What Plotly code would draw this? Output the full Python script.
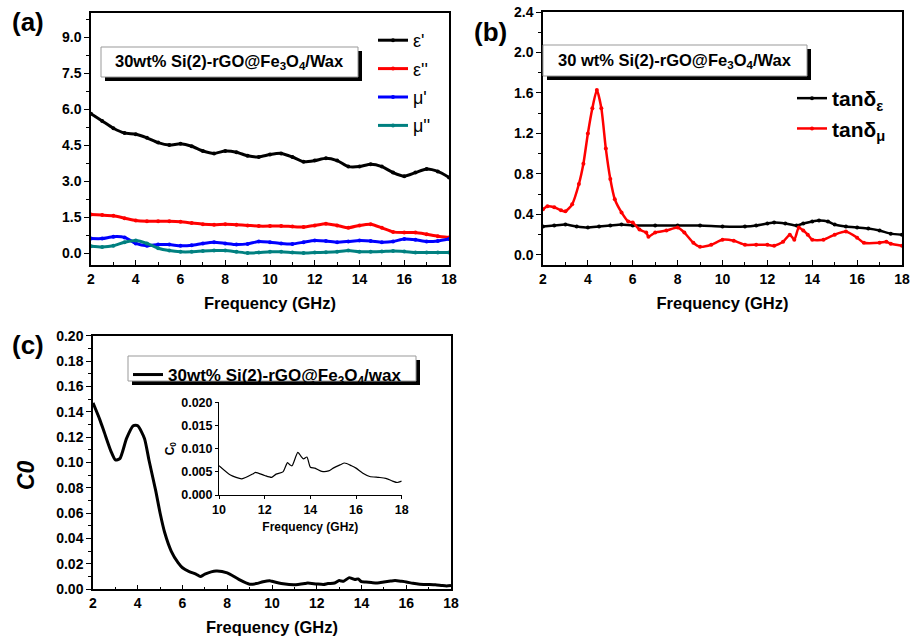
import plotly.graph_objects as go

# ---------------- data ----------------
freq_a = [2, 2.5, 3, 3.5, 4, 4.5, 5, 5.5, 6, 6.5, 7, 7.5, 8, 8.5, 9, 9.5, 10, 10.5, 11,
          11.5, 12, 12.5, 13, 13.5, 14, 14.5, 15, 15.5, 16, 16.5, 17, 17.5, 18]
eps_real = [5.8, 5.5, 5.2, 5.0, 4.95, 4.8, 4.6, 4.5, 4.55, 4.45, 4.25, 4.15, 4.25, 4.2, 4.05, 4.0,
            4.1, 4.15, 4.0, 3.8, 3.85, 3.95, 3.85, 3.6, 3.6, 3.7, 3.6, 3.35, 3.2, 3.35, 3.5, 3.4, 3.15]
eps_imag = [1.6, 1.58, 1.55, 1.45, 1.35, 1.32, 1.32, 1.32, 1.3, 1.25, 1.2, 1.18, 1.2, 1.18, 1.15, 1.12,
            1.12, 1.13, 1.1, 1.08, 1.15, 1.22, 1.15, 1.05, 1.15, 1.2, 1.05, 0.88, 0.85, 0.85, 0.78, 0.7, 0.65]
mu_real = [0.6, 0.6, 0.68, 0.65, 0.4, 0.3, 0.35, 0.35, 0.3, 0.32, 0.4, 0.45, 0.4, 0.35, 0.38, 0.48,
           0.45, 0.4, 0.38, 0.45, 0.52, 0.5, 0.45, 0.48, 0.52, 0.5, 0.45, 0.48, 0.58, 0.55, 0.48, 0.5, 0.58]
mu_imag = [0.28, 0.25, 0.3, 0.45, 0.52, 0.4, 0.2, 0.1, 0.05, 0.05, 0.08, 0.1, 0.1, 0.05, 0.0, 0.02,
           0.05, 0.05, 0.02, 0.0, 0.02, 0.03, 0.05, 0.1, 0.05, 0.05, 0.06, 0.08, 0.06, 0.02, 0.02, 0.02, 0.02]

freq_te = [2, 2.5, 3, 3.5, 4, 4.5, 5, 5.5, 6, 7, 8, 9, 10, 11, 11.5, 12, 12.3, 12.8, 13.3, 13.6,
           14, 14.3, 14.7, 15, 15.5, 16, 16.5, 17, 17.5, 18]
tan_eps = [0.28, 0.29, 0.3, 0.28, 0.27, 0.28, 0.29, 0.3, 0.29, 0.29, 0.29, 0.29, 0.28, 0.28, 0.29,
           0.31, 0.32, 0.31, 0.29, 0.31, 0.33, 0.34, 0.33, 0.3, 0.28, 0.27, 0.26, 0.24, 0.21, 0.2]
freq_tm = [2, 2.2, 2.5, 2.8, 3.0, 3.3, 3.6, 3.8, 4.0, 4.2, 4.4, 4.6, 4.8, 5.0, 5.2, 5.5, 5.8, 6.0,
           6.3, 6.6, 6.7, 7.0, 7.5, 8.0, 8.3, 8.7, 9.0, 9.5, 10.0, 10.5, 11.0, 11.5, 12.0, 12.3,
           12.7, 13.0, 13.2, 13.4, 13.6, 13.8, 14.0, 14.5, 15.0, 15.5, 16.0, 16.3, 17.0, 17.3, 17.5, 18.0]
tan_mu = [0.45, 0.48, 0.47, 0.44, 0.43, 0.5, 0.7, 0.9, 1.2, 1.45, 1.63, 1.45, 1.05, 0.75, 0.55, 0.42,
          0.33, 0.32, 0.25, 0.22, 0.18, 0.22, 0.24, 0.27, 0.22, 0.12, 0.08, 0.1, 0.15, 0.14, 0.1, 0.1,
          0.1, 0.09, 0.13, 0.2, 0.15, 0.27, 0.24, 0.2, 0.15, 0.15, 0.2, 0.23, 0.17, 0.12, 0.12, 0.13,
          0.11, 0.09]

freq_c = [2, 2.3, 2.5, 2.8, 3.0, 3.2, 3.5, 3.8, 4.0, 4.3, 4.5, 4.8, 5.0, 5.2, 5.5, 5.8, 6.0, 6.3,
          6.6, 6.8, 7.0, 7.5, 8.0, 8.5, 9.0, 9.3, 9.6, 9.9, 10.0, 10.5, 11.0, 11.5, 11.6, 12.0, 12.3,
          12.5, 12.8, 13.0, 13.1, 13.2, 13.45, 13.6, 13.7, 13.85, 14.0, 14.2, 14.5, 14.8, 15.0, 15.3,
          15.5, 15.8, 16.0, 16.3, 16.6, 17.0, 17.3, 17.6, 17.8, 18.0]
c0 = [0.147, 0.134, 0.124, 0.109, 0.102, 0.103, 0.119, 0.129, 0.129, 0.119, 0.102, 0.078, 0.06,
      0.045, 0.03, 0.021, 0.017, 0.014, 0.012, 0.01, 0.012, 0.0145, 0.013, 0.008, 0.004, 0.0045,
      0.006, 0.0068, 0.0063, 0.0043, 0.0035, 0.0046, 0.0049, 0.0042, 0.0038, 0.0045, 0.005, 0.007,
      0.0065, 0.0063, 0.0092, 0.0083, 0.0078, 0.0082, 0.006, 0.0058, 0.0051, 0.0052, 0.0058,
      0.0065, 0.0069, 0.0063, 0.0058, 0.0047, 0.004, 0.0038, 0.0036, 0.003, 0.0027, 0.003]
inset_freq = [f for f in freq_c if f >= 10]
inset_c0 = [v for f, v in zip(freq_c, c0) if f >= 10]

sample_a = "30wt% Si(2)-rGO@Fe<sub>3</sub>O<sub>4</sub>/Wax"
sample_b = "30 wt% Si(2)-rGO@Fe<sub>3</sub>O<sub>4</sub>/Wax"
sample_c = "30wt% Si(2)-rGO@Fe<sub>3</sub>O<sub>4</sub>/wax"

# ---------------- helpers ----------------
W, H = 911, 642
FONT = "Arial, Liberation Sans, sans-serif"


def px(x):
    return x / W


def py(y):
    return 1 - y / H


fig = go.Figure()


def add(x, y, name, color, xa, ya, legend, width=3, msize=4, group=None, show=True):
    fig.add_trace(go.Scatter(
        x=x, y=y, name=name, mode="lines+markers" if msize else "lines",
        line=dict(color=color, width=width, shape="spline", smoothing=0.6),
        marker=dict(size=msize, color=color) if msize else None,
        xaxis=xa, yaxis=ya, legend=legend, legendgroup=group, showlegend=show))


add(freq_a, eps_real, "ε'", "#000000", "x", "y", "legend", group="a1")
add(freq_a, eps_imag, "ε''", "#ff0000", "x", "y", "legend", group="a2")
add(freq_a, mu_real, "μ'", "#0000ff", "x", "y", "legend", group="a3")
add(freq_a, mu_imag, "μ''", "#008080", "x", "y", "legend", group="a4")

add(freq_te, tan_eps, "tanδ<sub>ε</sub>", "#000000", "x2", "y2", "legend2", width=2.5, group="b1")
add(freq_tm, tan_mu, "tanδ<sub>μ</sub>", "#ff0000", "x2", "y2", "legend2", width=2.5, group="b2")

add(freq_c, c0, sample_c, "#000000", "x3", "y3", "legend3", width=3, msize=0)
add(inset_freq, inset_c0, "inset", "#000000", "x4", "y4", "legend3", width=1.2, msize=0, show=False)

tickf = dict(family=FONT, size=14, color="black", weight="bold")
titlef = dict(family=FONT, size=16.5, color="black", weight="bold")


def main_x(domain, anchor):
    return dict(domain=domain, anchor=anchor, range=[2, 18], dtick=2, tick0=2,
                showline=True, mirror=True, linecolor="black", linewidth=1.5,
                ticks="inside", ticklen=5, tickwidth=1.2, tickcolor="black",
                minor=dict(ticks="inside", ticklen=3, dtick=1, tickcolor="black"),
                showgrid=False, zeroline=False, tickfont=tickf, automargin=False,
                title=dict(text="Frequency (GHz)", font=titlef, standoff=12))


def main_y(domain, anchor, rng, dtick, fmt):
    return dict(domain=domain, anchor=anchor, range=rng, dtick=dtick, tick0=0,
                tickformat=fmt, showline=True, mirror=True, linecolor="black",
                linewidth=1.5, ticks="outside", ticklen=5, tickwidth=1.2, tickcolor="black",
                minor=dict(ticks="outside", ticklen=3, dtick=dtick / 2, tickcolor="black"),
                showgrid=False, zeroline=False, tickfont=tickf, automargin=False)


inset_tick = dict(family=FONT, size=12.5, color="black", weight="bold")
inset_title = dict(family=FONT, size=12, color="black", weight="bold")

fig.update_layout(
    template="none",
    width=W, height=H, margin=dict(l=0, r=0, t=0, b=0, pad=0), autosize=False,
    paper_bgcolor="white", plot_bgcolor="white",
    font=dict(family=FONT, color="black"),
    xaxis=main_x([px(91), px(449)], "y"),
    yaxis=main_y([py(265), py(13)], "x", [-0.5, 10], 1.5, ".1f"),
    xaxis2=main_x([px(543), px(902)], "y2"),
    yaxis2=main_y([py(265), py(12)], "x2", [-0.1, 2.4], 0.4, ".1f"),
    xaxis3=main_x([px(93), px(451)], "y3"),
    yaxis3=main_y([py(589.3), py(335.7)], "x3", [0, 0.2], 0.02, ".2f"),
    xaxis4=dict(domain=[px(219), px(401.7)], anchor="y4", range=[10, 18], dtick=2,
                showline=True, linecolor="black", linewidth=1, ticks="outside", ticklen=3,
                tickcolor="black", showgrid=False, zeroline=False, tickfont=inset_tick,
                automargin=False,
                title=dict(text="Frequency (GHz)", font=inset_title, standoff=6)),
    yaxis4=dict(domain=[py(495), py(402.3)], anchor="x4", range=[0, 0.02], dtick=0.005,
                tickformat=".3f", showline=True, linecolor="black", linewidth=1,
                ticks="outside", ticklen=3, tickcolor="black", showgrid=False,
                zeroline=False, tickfont=inset_tick, automargin=False,
                title=dict(text="C<sub>0</sub>", font=inset_title, standoff=4)),
    legend=dict(x=px(373), y=py(22), xanchor="left", yanchor="top",
                bgcolor="rgba(0,0,0,0)", font=dict(family=FONT, size=18, color="black"),
                tracegroupgap=2, itemwidth=30),
    legend2=dict(x=px(792), y=py(78), xanchor="left", yanchor="top",
                 bgcolor="rgba(0,0,0,0)",
                 font=dict(family=FONT, size=21, color="black", weight="bold"),
                 tracegroupgap=0, itemwidth=30),
    legend3=dict(x=px(128), y=py(357), xanchor="left", yanchor="top",
                 bgcolor="rgba(0,0,0,0)",
                 font=dict(family=FONT, size=17, color="black", weight="bold"), itemwidth=30),
)


def text_box(x0, y0, x1, y1):
    fig.add_shape(type="rect", xref="paper", yref="paper", x0=px(x0 + 4), x1=px(x1 + 4),
                  y0=py(y1 + 4), y1=py(y0 + 4), fillcolor="black", line=dict(width=0),
                  layer="above")
    fig.add_shape(type="rect", xref="paper", yref="paper", x0=px(x0), x1=px(x1),
                  y0=py(y1), y1=py(y0), fillcolor="white",
                  line=dict(color="#999999", width=1), layer="above")


text_box(101, 47, 358, 77)
text_box(543, 45, 807, 76)
text_box(128, 356, 416, 381)


def note(text, x, y, font, angle=0):
    fig.add_annotation(x=px(x), y=py(y), xref="paper", yref="paper", text=text,
                       xanchor="center", yanchor="middle", showarrow=False,
                       font=font, textangle=angle)


ann_font = dict(family=FONT, size=16.5, color="black", weight="bold")
note(sample_a, 229.5, 62, ann_font)
note(sample_b, 675, 61, ann_font)

label_font = dict(family=FONT, size=26, color="black", weight="bold")
for t, xx, yy in [("(a)", 28, 22), ("(b)", 490, 32), ("(c)", 28, 345)]:
    note(t, xx, yy, label_font)

note("<i>C0</i>", 26, 475, dict(family=FONT, size=23, color="black", weight="bold"), angle=-90)

fig.write_html("out.html", config={"displayModeBar": False},
               post_script="document.body.style.margin='0px';")
